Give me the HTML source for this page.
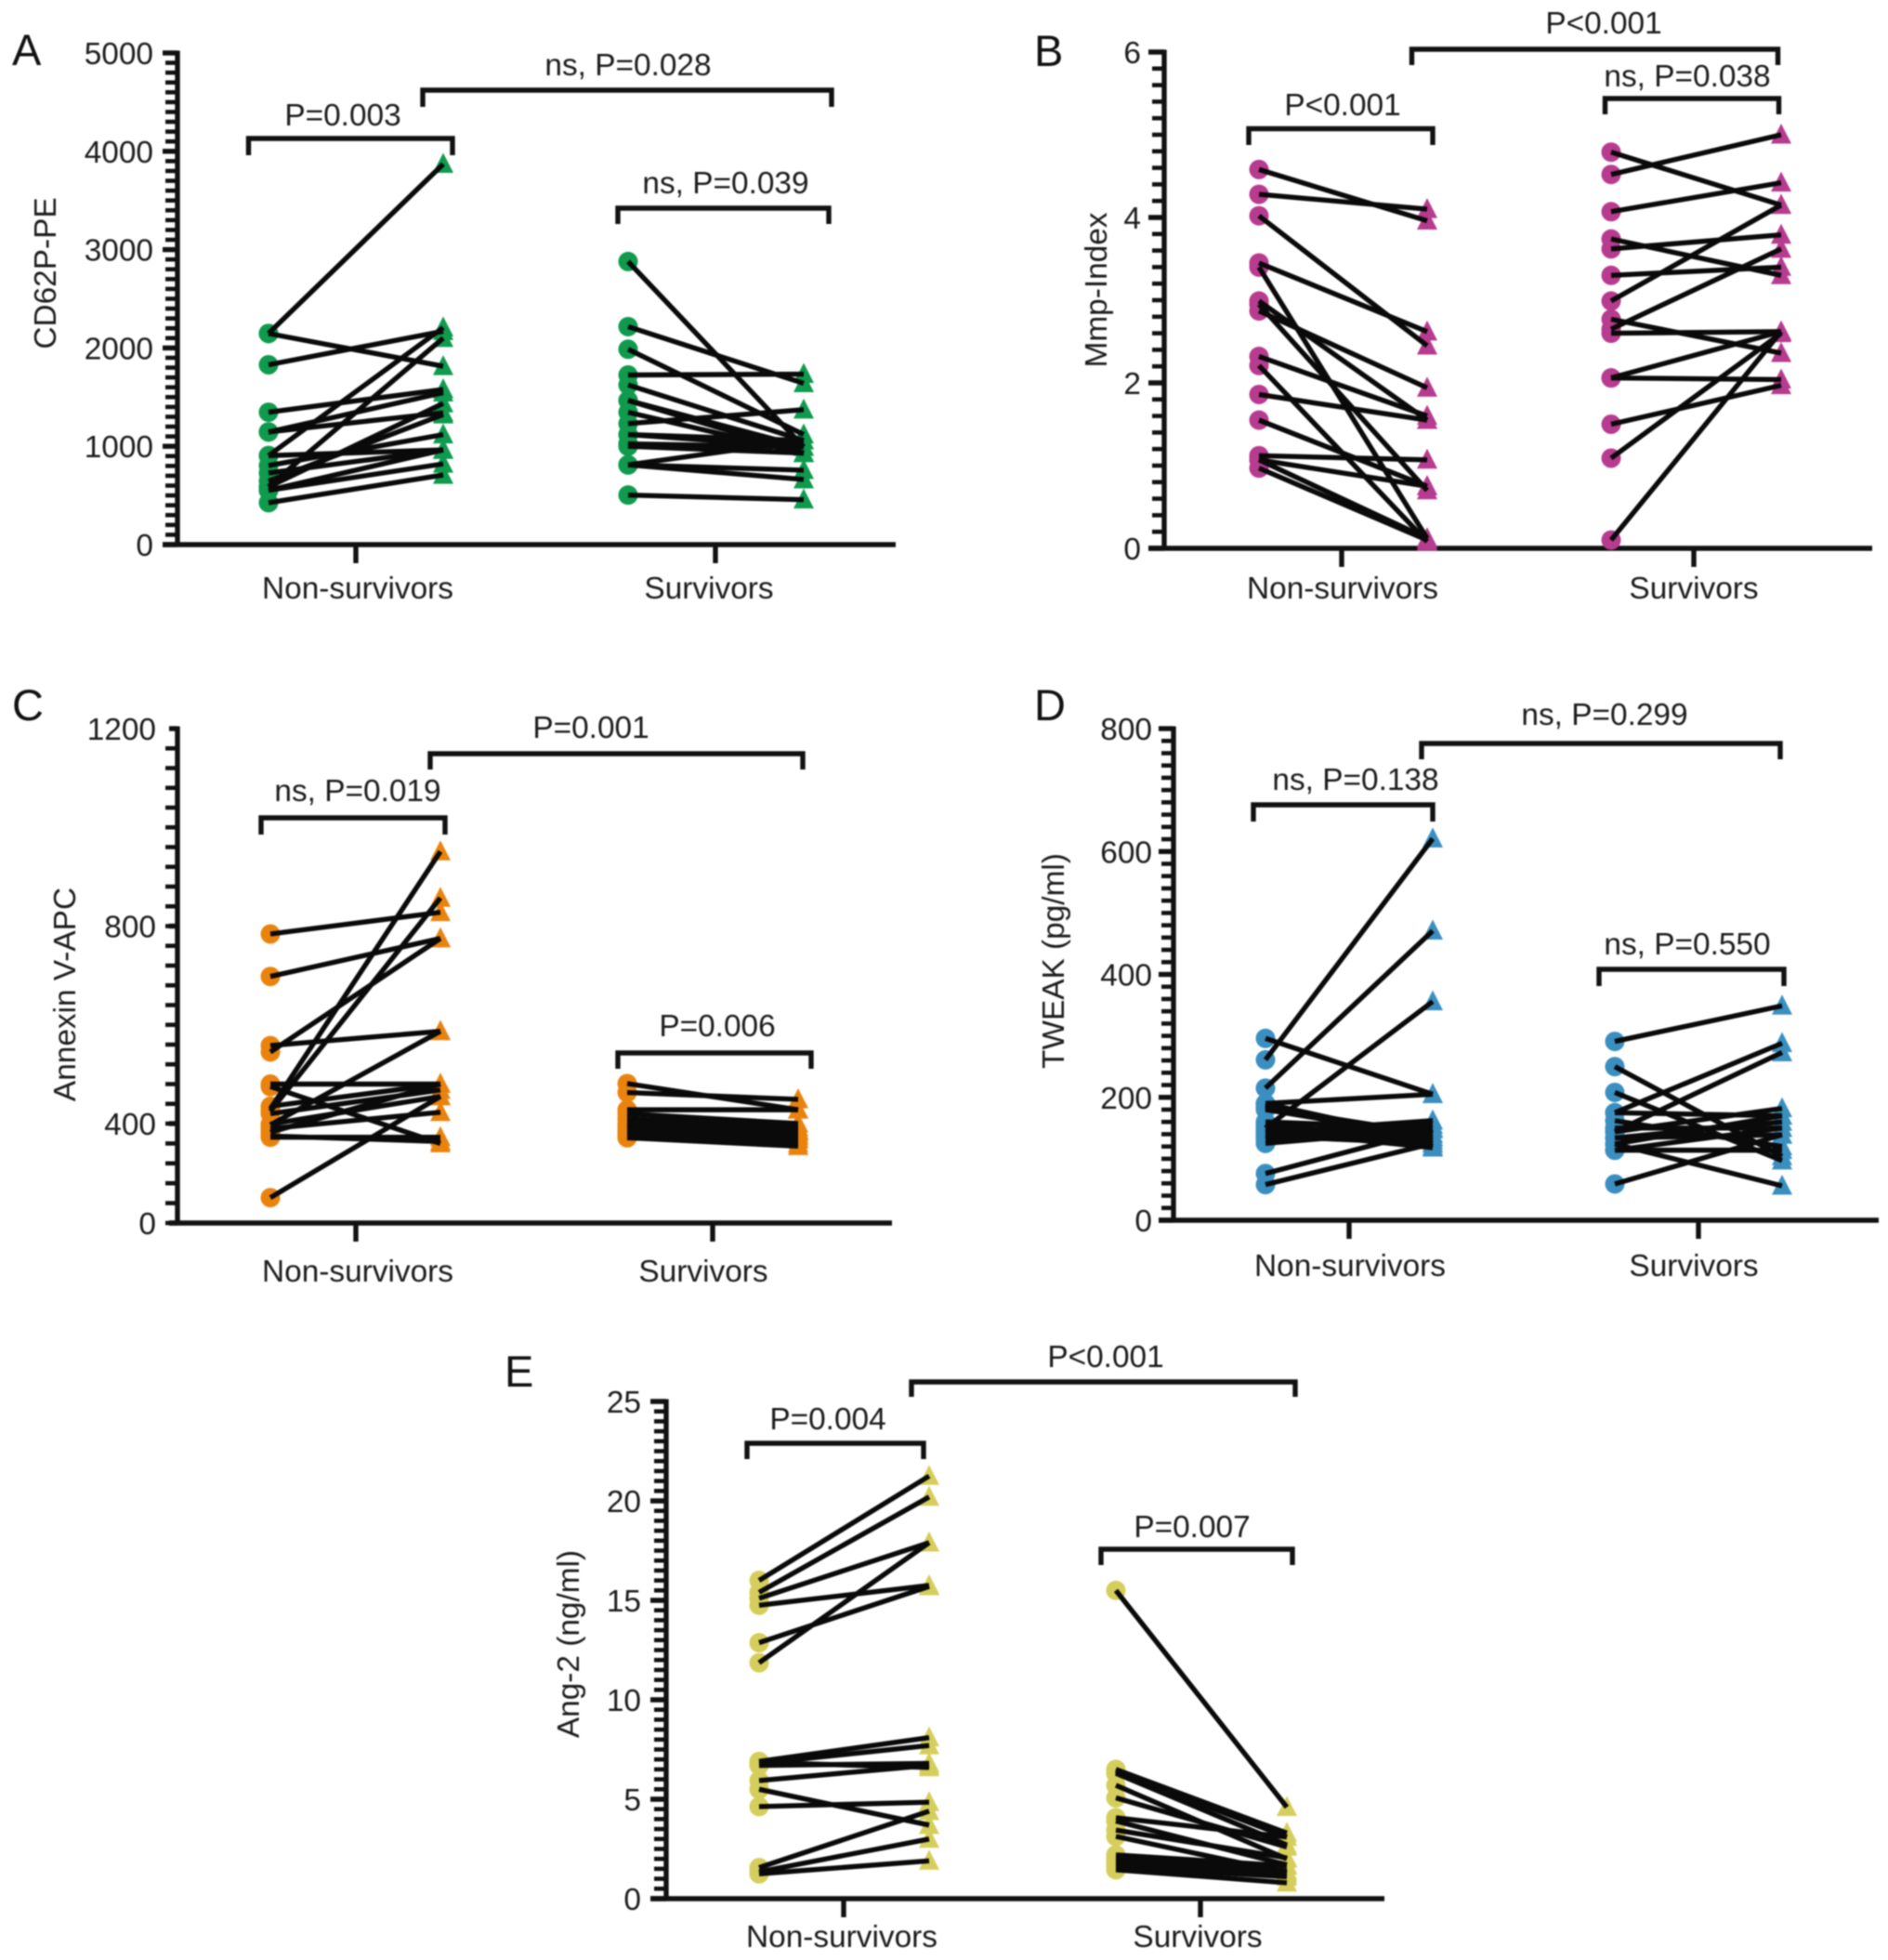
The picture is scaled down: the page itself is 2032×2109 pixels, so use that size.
<!DOCTYPE html>
<html lang="en">
<head>
<meta charset="utf-8">
<title>Platelet and endothelial markers in non-survivors and survivors</title>
<style>
html,body{margin:0;padding:0;background:#fff;}
#figure{display:block;width:2032px;height:2109px;background:#fff;}
#figure-content{filter:blur(0.8px);}
text{font-family:"Liberation Sans",sans-serif;fill:#1c1c1c;font-size:33.4px;}
.letter{font-size:47px;fill:#111;}
.mid{text-anchor:middle;}
.bracket{fill:none;stroke:#111;stroke-width:5.4;}
</style>
</head>
<body>
<svg id="figure" xmlns="http://www.w3.org/2000/svg" width="2032" height="2109" viewBox="0 0 2032 2109">
<g id="figure-content">

<g id="panel-a">
  <text class="letter" x="13" y="70">A</text>
  <text class="mid" transform="translate(60,294) rotate(-90)">CD62P-PE</text>
  <text class="mid" x="385" y="644">Non-survivors</text>
  <text class="mid" x="763" y="644">Survivors</text>
  <path class="bracket" d="M267.5 167V149H487V167"/>
  <text class="mid" x="369" y="135">P=0.003</text>
  <path class="bracket" d="M455 115V97H895V115"/>
  <text class="mid" x="676" y="81">ns, P=0.028</text>
  <path class="bracket" d="M665 241V224H892V241"/>
  <text class="mid" x="781" y="208">ns, P=0.039</text>
</g>

<g id="panel-b">
  <text class="letter" x="1113" y="71">B</text>
  <text class="mid" transform="translate(1191,312) rotate(-90)">Mmp-Index</text>
  <text class="mid" x="1445" y="644">Non-survivors</text>
  <text class="mid" x="1823" y="644">Survivors</text>
  <path class="bracket" d="M1344 156V138.5H1542V156"/>
  <text class="mid" x="1445" y="124">P&lt;0.001</text>
  <path class="bracket" d="M1522 70V53H1916V70" transform="translate(-2.5,0)"/>
  <text class="mid" x="1726" y="36">P&lt;0.001</text>
  <path class="bracket" d="M1730 123V106H1917V123" transform="translate(-2.5,0)"/>
  <text class="mid" x="1816" y="93">ns, P=0.038</text>
</g>

<g id="panel-c">
  <text class="letter" x="13" y="775">C</text>
  <text class="mid" transform="translate(81,1070) rotate(-90)">Annexin V-APC</text>
  <text class="mid" x="385" y="1379">Non-survivors</text>
  <text class="mid" x="757" y="1379">Survivors</text>
  <path class="bracket" d="M281 898V880H479V898"/>
  <text class="mid" x="385" y="862">ns, P=0.019</text>
  <path class="bracket" d="M463 828V811H864V828"/>
  <text class="mid" x="636" y="794">P=0.001</text>
  <path class="bracket" d="M665 1150V1133H873V1150"/>
  <text class="mid" x="772" y="1115">P=0.006</text>
</g>

<g id="panel-d">
  <text class="letter" x="1113" y="775">D</text>
  <text class="mid" transform="translate(1145,1034) rotate(-90)">TWEAK (pg/ml)</text>
  <text class="mid" x="1453" y="1373">Non-survivors</text>
  <text class="mid" x="1823" y="1373">Survivors</text>
  <path class="bracket" d="M1352 884V866H1545V884" transform="translate(-3,0)"/>
  <text class="mid" x="1459" y="850">ns, P=0.138</text>
  <path class="bracket" d="M1533 817V800H1919V817" transform="translate(-3,0)"/>
  <text class="mid" x="1727" y="780">ns, P=0.299</text>
  <path class="bracket" d="M1724 1061V1043H1923V1061" transform="translate(-3,0)"/>
  <text class="mid" x="1816" y="1027">ns, P=0.550</text>
</g>

<g id="panel-e">
  <text class="letter" x="543" y="1492">E</text>
  <text class="mid" transform="translate(623,1769) rotate(-90)">Ang-2 (ng/ml)</text>
  <text class="mid" x="906" y="2095">Non-survivors</text>
  <text class="mid" x="1289" y="2095">Survivors</text>
  <path class="bracket" d="M804 1570V1553H994V1570"/>
  <text class="mid" x="891" y="1538">P=0.004</text>
  <path class="bracket" d="M984 1503V1487H1397V1503" transform="translate(-3,0)"/>
  <text class="mid" x="1190" y="1471">P&lt;0.001</text>
  <path class="bracket" d="M1188 1684V1667H1394V1684" transform="translate(-3,0)"/>
  <text class="mid" x="1283" y="1654">P=0.007</text>
</g>

</g>
</svg>

<script>
// Panel A: CD62P-PE
const aTicks = [0, 1000, 2000, 3000, 4000, 5000];
const aNonBefore = [2147, 2147, 1829, 1346, 1145, 1145, 905, 590, 905, 804, 728, 646, 586, 552, 552, 426];
const aNonAfter = [3870, 1814, 2170, 1578, 1545, 1341, 2207, 2100, 963, 1119, 963, 1322, 1436, 963, 821, 708];
const aSurvBefore = [2879, 2217, 1987, 1725, 1624, 1466, 1466, 1346, 1230, 1119, 1119, 1025, 1025, 1000, 811, 811, 811, 504];
const aSurvAfter = [993, 1640, 1119, 1734, 1059, 993, 930, 930, 1372, 993, 1059, 993, 930, 930, 1059, 757, 662, 457];

// Panel B: Mmp-Index
const bTicks = [0, 2, 4, 6];
const bNonBefore = [4.58, 4.28, 4.02, 3.45, 3.4, 2.99, 2.95, 2.87, 2.32, 2.21, 1.86, 1.55, 1.12, 1.07, 1.07, 0.97];
const bNonAfter = [3.96, 4.1, 2.45, 2.62, 0.12, 1.55, 0.7, 1.94, 1.6, 0.08, 1.55, 0.75, 1.07, 0.75, 0.12, 0.1];
const bSurvBefore = [4.79, 4.52, 4.07, 3.74, 3.62, 3.3, 2.99, 2.77, 2.65, 2.6, 2.06, 2.06, 1.5, 1.09, 0.1];
const bSurvAfter = [4.15, 5.0, 4.42, 3.3, 3.79, 3.4, 4.15, 2.36, 3.62, 2.62, 2.62, 2.04, 1.97, 2.6, 2.62];

// Panel C: Annexin V-APC
const cTicks = [0, 400, 800, 1200];
const cNonBefore = [784, 698, 558, 545, 430, 425, 395, 480, 475, 435, 420, 398, 380, 365, 350, 345, 102];
const cNonAfter = [828, 775, 587, 775, 951, 857, 587, 480, 320, 480, 468, 455, 423, 480, 328, 345, 455];
const cSurvBefore = [481, 463, 428, 420, 410, 400, 395, 385, 375, 365, 360, 352, 345, 343];
const cSurvAfter = [428, 449, 428, 400, 385, 375, 370, 365, 355, 350, 340, 335, 320, 309];

// Panel D: TWEAK
const dTicks = [0, 200, 400, 600, 800];
const dNonBefore = [296, 261, 215, 190, 190, 187, 185, 183, 180, 150, 160, 155, 150, 148, 146, 143, 140, 137, 135, 132, 125, 76, 58];
const dNonAfter = [205, 621, 471, 205, 130, 120, 125, 140, 135, 356, 150, 135, 125, 140, 118, 162, 130, 125, 155, 162, 148, 148, 125];
const dSurvBefore = [291, 250, 208, 175, 175, 162, 150, 144, 144, 134, 134, 124, 124, 114, 114, 59];
const dSurvAfter = [349, 104, 97, 288, 170, 120, 150, 182, 273, 139, 160, 56, 170, 114, 150, 139];

// Panel E: Ang-2
const eTicks = [0, 5, 10, 15, 20, 25];
const eNonBefore = [16, 15.4, 15.1, 14.75, 12.87, 11.86, 6.9, 6.8, 6.7, 6.85, 5.94, 5.5, 4.63, 1.56, 1.35, 1.25];
const eNonAfter = [21.25, 20.2, 17.9, 15.75, 15.7, 17.9, 8.1, 7.7, 6.8, 6.6, 6.7, 3.7, 4.85, 4.4, 3.0, 1.9];
const eSurvBefore = [15.5, 6.5, 6.4, 6.3, 5.7, 5.07, 4.07, 3.9, 3.45, 3.13, 2.2, 2.05, 1.9, 1.75, 1.6, 1.45];
const eSurvAfter = [4.6, 3.3, 3.1, 2.7, 2.0, 2.6, 3.1, 1.7, 2.05, 1.3, 1.65, 1.4, 1.3, 1.2, 1.1, 0.8];

const SVG_NS = 'http://www.w3.org/2000/svg';

function make(parent, tag, name) {
  const el = document.createElementNS(SVG_NS, tag);
  
  
  parent.appendChild(el);
  return el;
}

// Piecewise linear value-to-pixel axis function
function axisScale(domain, range) {
  return function (v) {
    let i = 0;
    while (i < domain.length - 2 && v > domain[i + 1]) i++;
    const t = (v - domain[i]) / (domain[i + 1] - domain[i]);
    return range[i] + t * (range[i + 1] - range[i]);
  };
}

function line(parent, name, x1, y1, x2, y2, width, color) {
  const l = make(parent, 'line', name);
  l.setAttribute('x1', x1);
  l.setAttribute('y1', y1);
  l.setAttribute('x2', x2);
  l.setAttribute('y2', y2);
  l.setAttribute('stroke', color);
  l.setAttribute('stroke-width', width);
}

function drawAxes(g, cfg, y) {
  const dark = '#111';
  const top = y(cfg.domain[cfg.domain.length - 1]);
  const base = y(cfg.domain[0]);
  line(g, 'y-axis-line', cfg.axisX, top - 2.5, cfg.axisX, base + 2.5, 5.4, dark);
  line(g, 'x-axis-line', cfg.axisLeft, base, cfg.axisRight, base, 5.4, dark);
  cfg.xTicks.forEach(function (x) {
    line(g, 'x-axis-tick', x, base, x, base + 20, 5.4, dark);
  });
  for (let s = 0; s < cfg.minorSteps.length; s++) {
    for (let v = cfg.domain[s]; v < cfg.domain[s + 1] - 1e-6; v += cfg.minorSteps[s]) {
      line(g, 'y-axis-minor-tick', cfg.axisX - 13, y(v), cfg.axisX, y(v), 4.6, dark);
    }
  }
  cfg.ticks.forEach(function (t) {
    line(g, 'y-axis-major-tick', cfg.axisLeft, y(t), cfg.axisX, y(t), 5.4, dark);
    const label = make(g, 'text', 'y-tick-label');
    label.setAttribute('x', cfg.labelX);
    label.setAttribute('y', y(t) + 12);
    label.setAttribute('text-anchor', 'end');
    label.textContent = String(t);
  });
}

function drawGroup(g, cfg, y, before, after, xs, groupName) {
  const markers = make(g, 'g', groupName + '-markers');
  before.forEach(function (v) {
    const c = make(markers, 'circle', groupName + '-before-point');
    c.setAttribute('cx', xs[0]);
    c.setAttribute('cy', y(v));
    c.setAttribute('r', 10.5);
    c.setAttribute('fill', cfg.color);
  });
  after.forEach(function (v) {
    const t = make(markers, 'polygon', groupName + '-after-point');
    const py = y(v);
    t.setAttribute('points', (xs[1] - 11) + ',' + (py + 9.5) + ' ' + (xs[1] + 11) + ',' + (py + 9.5) + ' ' + xs[1] + ',' + (py - 12));
    t.setAttribute('fill', cfg.color);
  });
  const links = make(g, 'g', groupName + '-paired-lines');
  before.forEach(function (v, i) {
    line(links, groupName + '-paired-line', xs[0], y(v), xs[1], y(after[i]), 5.4, '#0a0a0a');
  });
}

function drawPanel(cfg) {
  const parent = document.getElementById(cfg.id);
  const g = make(parent, 'g', cfg.id + '-plot');
  const y = axisScale(cfg.domain, cfg.range);
  drawAxes(g, cfg, y);
  drawGroup(g, cfg, y, cfg.nonBefore, cfg.nonAfter, cfg.nonX, 'non-survivors');
  drawGroup(g, cfg, y, cfg.survBefore, cfg.survAfter, cfg.survX, 'survivors');
}

drawPanel({
  id: 'panel-a', color: '#0f9a4e', ticks: aTicks,
  domain: [0, 5000], range: [586, 57], minorSteps: [100],
  axisX: 191, axisLeft: 175, axisRight: 964, labelX: 165,
  xTicks: [383, 770], nonX: [289, 477], survX: [676, 865],
  nonBefore: aNonBefore, nonAfter: aNonAfter, survBefore: aSurvBefore, survAfter: aSurvAfter
});
drawPanel({
  id: 'panel-b', color: '#b73b8f', ticks: bTicks,
  domain: [0, 6], range: [590, 56], minorSteps: [0.2],
  axisX: 1253, axisLeft: 1236, axisRight: 2015, labelX: 1228,
  xTicks: [1444, 1823], nonX: [1355, 1536], survX: [1734, 1917],
  nonBefore: bNonBefore, nonAfter: bNonAfter, survBefore: bSurvBefore, survAfter: bSurvAfter
});
drawPanel({
  id: 'panel-c', color: '#ea830e', ticks: cTicks,
  domain: [0, 400, 1200], range: [1316, 1209, 784], minorSteps: [80, 40],
  axisX: 191, axisLeft: 182, axisRight: 960, labelX: 168,
  xTicks: [383, 767], nonX: [291, 474], survX: [675, 859],
  nonBefore: cNonBefore, nonAfter: cNonAfter, survBefore: cSurvBefore, survAfter: cSurvAfter
});
drawPanel({
  id: 'panel-d', color: '#3b8fc0', ticks: dTicks,
  domain: [0, 800], range: [1313, 784], minorSteps: [20],
  axisX: 1263, axisLeft: 1247, axisRight: 2022, labelX: 1240,
  xTicks: [1452, 1828], nonX: [1362, 1542], survX: [1738, 1918],
  nonBefore: dNonBefore, nonAfter: dNonAfter, survBefore: dSurvBefore, survAfter: dSurvAfter
});
drawPanel({
  id: 'panel-e', color: '#d6ce5c', ticks: eTicks,
  domain: [0, 25], range: [2043, 1508], minorSteps: [0.5],
  axisX: 717, axisLeft: 700, axisRight: 1490, labelX: 690,
  xTicks: [908, 1292], nonX: [817, 1000], survX: [1201, 1385],
  nonBefore: eNonBefore, nonAfter: eNonAfter, survBefore: eSurvBefore, survAfter: eSurvAfter
});
</script>
</body>
</html>
